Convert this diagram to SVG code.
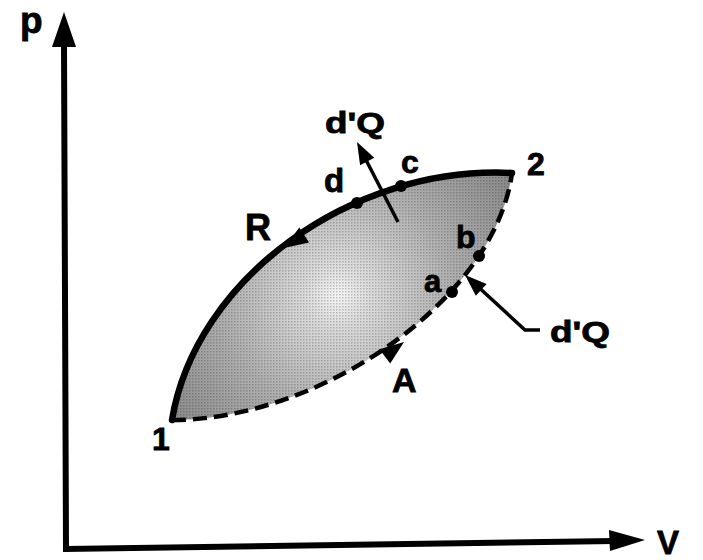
<svg xmlns="http://www.w3.org/2000/svg" width="703" height="560" viewBox="0 0 703 560">
  <style>
    .lbl { font-family: "Liberation Sans", Arial, sans-serif; font-weight: bold; fill: #000; stroke: #000; stroke-width: 0.8; }
    .axis { stroke: #000; stroke-width: 6; fill: none; stroke-linecap: square; }
    .rev { stroke: #000; stroke-width: 6.5; fill: none; stroke-linecap: round; }
    .irr { stroke: #000; stroke-width: 4.5; fill: none; stroke-dasharray: 14 7; }
    .thin { stroke: #000; stroke-width: 3.5; fill: none; }
    .head { fill: #000; }
    .dot { fill: #000; }
  </style>
  <defs>
    <radialGradient id="shade" gradientUnits="userSpaceOnUse" cx="338" cy="295" r="210">
      <stop offset="0" stop-color="#f6f6f6"/>
      <stop offset="0.15" stop-color="#dcdcdc"/>
      <stop offset="0.55" stop-color="#b0b0b0"/>
      <stop offset="1" stop-color="#8a8a8a"/>
    </radialGradient>
    <pattern id="stipple" width="3" height="3" patternUnits="userSpaceOnUse">
      <rect x="0" y="0" width="1.5" height="1.5" fill="#000" fill-opacity="0.22"/>
    </pattern>
  </defs>
  <rect width="703" height="560" fill="#fff"/>

  <g id="region">
    <path d="M172,420 C195,280 350,165 512,173 C495,300 320,420 172,420 Z" fill="url(#shade)"/>
    <path d="M172,420 C195,280 350,165 512,173 C495,300 320,420 172,420 Z" fill="url(#stipple)"/>
  </g>

  <g id="axes">
    <line class="axis" x1="64" y1="44" x2="66" y2="549"/>
    <line class="axis" x1="66" y1="549" x2="612" y2="541"/>
    <polygon class="head" points="64,12 52,47 76,47"/>
    <polygon class="head" points="645,540 609,530 610,551"/>
    <text class="lbl" x="20" y="33" font-size="37">p</text>
    <text class="lbl" x="657" y="554" font-size="33">V</text>
  </g>

  <g id="connectors">
    <g id="path-R">
      <path class="rev" d="M172,420 C195,280 350,165 512,173"/>
      <polygon class="head" points="284,248 309.1,242.6 299.3,227.4"/>
    </g>
    <g id="path-A">
      <path class="irr" d="M172,420 C320,420 495,300 512,173"/>
      <polygon class="head" points="404,342 390.2,363.6 379.4,349.2"/>
    </g>
    <g id="heat-top">
      <line class="thin" x1="398" y1="222" x2="365" y2="158"/>
      <polygon class="head" points="357,142 374.3,157.8 360.1,165.2"/>
    </g>
    <g id="heat-right">
      <polyline class="thin" points="540,330 525,330 474,283"/>
      <polygon class="head" points="465,275 486.6,284 475.8,295.8"/>
    </g>
  </g>

  <g id="state-1"><text class="lbl" x="152" y="450" font-size="32">1</text></g>
  <g id="state-2"><text class="lbl" x="527" y="175" font-size="32">2</text></g>
  <g id="point-d"><circle class="dot" cx="357" cy="203" r="6"/><text class="lbl" x="324" y="192" font-size="33">d</text></g>
  <g id="point-c"><circle class="dot" cx="401" cy="186" r="6"/><text class="lbl" x="401" y="173" font-size="32">c</text></g>
  <g id="point-b"><circle class="dot" cx="479" cy="256" r="6"/><text class="lbl" x="456" y="248" font-size="32">b</text></g>
  <g id="point-a"><circle class="dot" cx="452" cy="292" r="6"/><text class="lbl" x="424" y="292" font-size="31">a</text></g>
  <g id="label-R"><text class="lbl" x="245" y="240" font-size="36">R</text></g>
  <g id="label-A"><text class="lbl" x="392" y="392" font-size="34">A</text></g>
  <g id="label-dQ-top"><text class="lbl" x="325" y="133" font-size="29" textLength="60" lengthAdjust="spacingAndGlyphs">d'Q</text></g>
  <g id="label-dQ-right"><text class="lbl" x="550" y="342" font-size="29" textLength="60" lengthAdjust="spacingAndGlyphs">d'Q</text></g>
</svg>
